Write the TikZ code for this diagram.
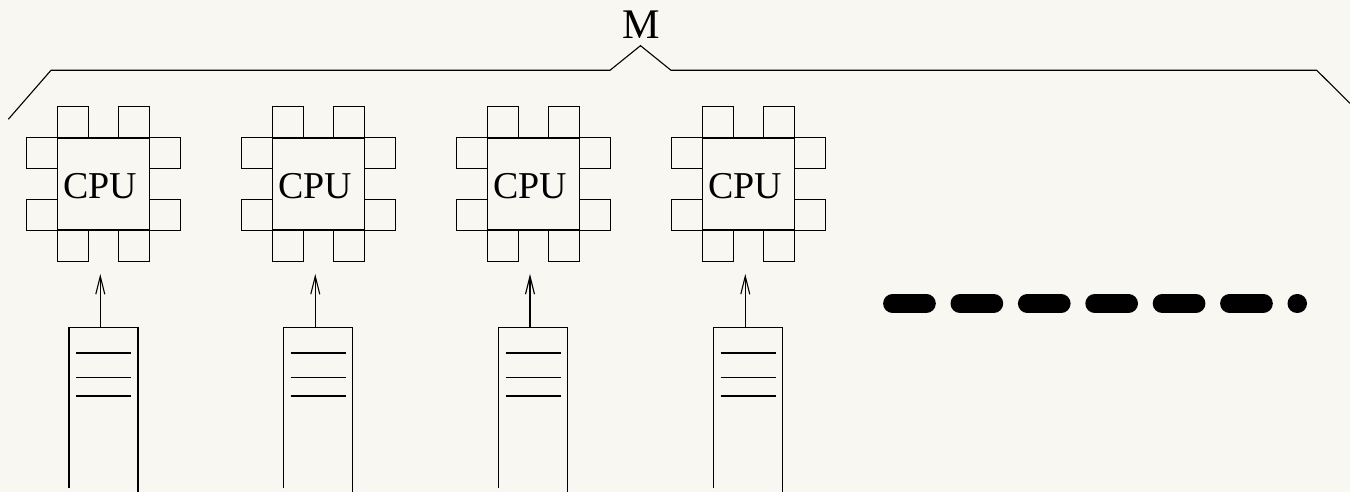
\documentclass[tikz,border=0pt]{standalone}
\usepackage{fontspec}
\setmainfont{Liberation Serif}
\definecolor{paperbg}{RGB}{248,247,241}
\usetikzlibrary{arrows.meta,positioning}
\tikzset{
  wire/.style={line width=0.011cm,black},
  cpubox/.style={draw,wire,minimum size=0.92cm,inner sep=0pt},
  cpupin/.style={draw,wire,minimum size=0.31cm,inner sep=0pt},
  cpulabel/.style={anchor=base,inner sep=0pt,font=\fontsize{10.8}{12}\selectfont},
  queuebox/.style={minimum width=0.676cm,minimum height=1.64cm,inner sep=0pt},
  feed/.style={wire,-{Straight Barb[length=0.18cm,width=0.09cm,line width=0.011cm]}},
  dashrow/.style={line width=0.19cm,line cap=round,dash pattern=on 0.337cm off 0.337cm}
}
\begin{document}
\begin{tikzpicture}
  \fill[paperbg] (0,0) rectangle (13.5,4.92);
  \useasboundingbox (0,0) rectangle (13.5,4.92);
  %% Brace and its label
  \node[cpulabel,font=\fontsize{12}{14}\selectfont] (mlabel) at (6.415,4.53) {M};
  \coordinate (bl) at (0.083,3.727);
  \coordinate (br) at (13.5,3.887);
  \draw[wire] (bl) -- (0.51,4.217) -- (6.10,4.217) -- (6.405,4.463) -- (6.71,4.217) -- (13.167,4.217) -- (br);
  %% CPU 1
  \node[cpupin] (a1) at (0.728,3.696) {}; \node[cpupin] (a2) at (1.342,3.696) {};
  \node[cpupin] (a3) at (0.728,2.464) {}; \node[cpupin] (a4) at (1.342,2.464) {};
  \node[cpupin] (a5) at (0.418,3.388) {}; \node[cpupin] (a6) at (0.418,2.772) {};
  \node[cpupin] (a7) at (1.652,3.388) {}; \node[cpupin] (a8) at (1.652,2.772) {};
  \node[cpubox] (cpu1) at (1.035,3.08) {};
  \node[cpulabel] (t1) at (1.000,2.93) {CPU};
  \node[queuebox] (q1) at (1.035,0.82) {};
  \coordinate (f1) at (1.003,2.18);
  \draw[wire] ([yshift=0.043cm]q1.south west) |- (q1.north east) -- (q1.south east);
  \draw[feed] (q1.north -| f1) -- (f1);
  \draw[wire] (0.76,1.39) -- (1.31,1.39);
  \draw[wire] (0.76,1.145) -- (1.31,1.145);
  \draw[wire] (0.76,0.96) -- (1.31,0.96);
  %% CPU 2
  \node[cpupin] (b1) at (2.878,3.696) {}; \node[cpupin] (b2) at (3.492,3.696) {};
  \node[cpupin] (b3) at (2.878,2.464) {}; \node[cpupin] (b4) at (3.492,2.464) {};
  \node[cpupin] (b5) at (2.568,3.388) {}; \node[cpupin] (b6) at (2.568,2.772) {};
  \node[cpupin] (b7) at (3.802,3.388) {}; \node[cpupin] (b8) at (3.802,2.772) {};
  \node[cpubox] (cpu2) at (3.185,3.08) {};
  \node[cpulabel] (t2) at (3.150,2.93) {CPU};
  \node[queuebox] (q2) at (3.181,0.82) {};
  \coordinate (f2) at (3.153,2.18);
  \draw[wire] ([yshift=0.043cm]q2.south west) |- (q2.north east) -- (q2.south east);
  \draw[feed] (q2.north -| f2) -- (f2);
  \draw[wire] (2.906,1.39) -- (3.46,1.39);
  \draw[wire] (2.906,1.145) -- (3.46,1.145);
  \draw[wire] (2.906,0.96) -- (3.46,0.96);
  %% CPU 3
  \node[cpupin] (c1) at (5.028,3.696) {}; \node[cpupin] (c2) at (5.642,3.696) {};
  \node[cpupin] (c3) at (5.028,2.464) {}; \node[cpupin] (c4) at (5.642,2.464) {};
  \node[cpupin] (c5) at (4.718,3.388) {}; \node[cpupin] (c6) at (4.718,2.772) {};
  \node[cpupin] (c7) at (5.952,3.388) {}; \node[cpupin] (c8) at (5.952,2.772) {};
  \node[cpubox] (cpu3) at (5.335,3.08) {};
  \node[cpulabel] (t3) at (5.300,2.93) {CPU};
  \node[queuebox] (q3) at (5.332,0.82) {};
  \coordinate (f3) at (5.30,2.18);
  \draw[wire] ([yshift=0.043cm]q3.south west) |- (q3.north east) -- (q3.south east);
  \draw[feed] (q3.north -| f3) -- (f3);
  \draw[wire] (5.056,1.39) -- (5.607,1.39);
  \draw[wire] (5.056,1.145) -- (5.607,1.145);
  \draw[wire] (5.056,0.96) -- (5.607,0.96);
  %% CPU 4
  \node[cpupin] (d1) at (7.178,3.696) {}; \node[cpupin] (d2) at (7.792,3.696) {};
  \node[cpupin] (d3) at (7.178,2.464) {}; \node[cpupin] (d4) at (7.792,2.464) {};
  \node[cpupin] (d5) at (6.868,3.388) {}; \node[cpupin] (d6) at (6.868,2.772) {};
  \node[cpupin] (d7) at (8.102,3.388) {}; \node[cpupin] (d8) at (8.102,2.772) {};
  \node[cpubox] (cpu4) at (7.485,3.08) {};
  \node[cpulabel] (t4) at (7.450,2.93) {CPU};
  \node[queuebox] (q4) at (7.483,0.82) {};
  \coordinate (f4) at (7.453,2.18);
  \draw[wire] ([yshift=0.043cm]q4.south west) |- (q4.north east) -- (q4.south east);
  \draw[feed] (q4.north -| f4) -- (f4);
  \draw[wire] (7.206,1.39) -- (7.76,1.39);
  \draw[wire] (7.206,1.145) -- (7.76,1.145);
  \draw[wire] (7.206,0.96) -- (7.76,0.96);
  %% Continuation dashes
  \draw[dashrow] (8.926,1.885) -- (12.975,1.885);
\end{tikzpicture}
\end{document}
